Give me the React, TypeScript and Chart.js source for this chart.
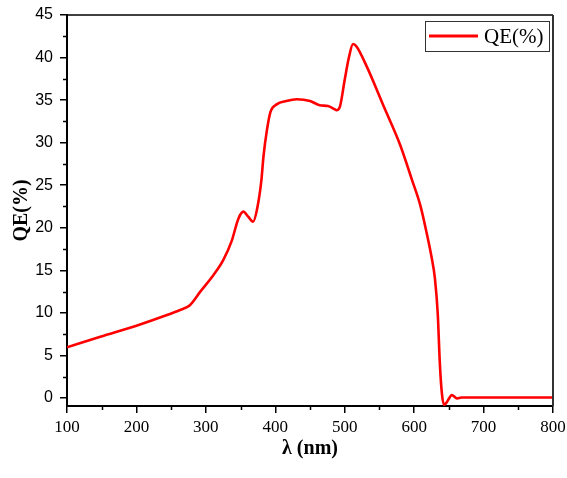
import React, { useEffect, useRef } from "react";
import { Chart, registerables } from "chart.js";

Chart.register(...registerables);

const wavelengths = [100, 148, 200, 244, 263, 268, 277, 292, 311, 325, 337, 347, 354, 361, 368, 374, 380, 383, 388, 393, 402, 416, 431, 450, 464, 476, 486, 488, 493, 500, 506, 512, 517, 532, 556, 580, 597, 609, 618, 625, 630, 634, 637, 640, 643, 646, 650, 654, 658, 662, 668, 680, 720, 760, 800];
const qeValues = [5.95, 7.2, 8.5, 9.75, 10.35, 10.5, 10.9, 12.5, 14.45, 16.2, 18.4, 21.1, 21.9, 21.3, 20.7, 22.3, 25.6, 28.4, 31.5, 33.6, 34.5, 34.9, 35.1, 34.9, 34.4, 34.3, 33.9, 33.8, 34.2, 37.4, 40.0, 41.6, 41.3, 38.9, 34.3, 29.7, 25.6, 22.6, 19.4, 16.6, 14.0, 9.9, 4.1, 0.5, -0.8, -0.6, -0.1, 0.35, 0.15, -0.05, 0.05, 0.05, 0.05, 0.05, 0.05];

const xTicks = [100, 200, 300, 400, 500, 600, 700, 800];
const yTicks = [0, 5, 10, 15, 20, 25, 30, 35, 40, 45];
const xMinorTicks = [150, 250, 350, 450, 550, 650, 750];
const yMinorTicks = [2.5, 7.5, 12.5, 17.5, 22.5, 27.5, 32.5, 37.5, 42.5];

const seriesLabel = "QE(%)";
const xTitle = "λ (nm)";
const yTitle = "QE(%)";

const SERIF = '"Liberation Serif", "Times New Roman", serif';
const SANS = '"Liberation Sans", Arial, sans-serif';

const decorPlugin = {
  id: "decor",
  afterDraw(chart: any) {
    const { ctx, chartArea: ca, scales } = chart;
    const x = scales.x;
    const y = scales.y;
    ctx.save();
    ctx.strokeStyle = "#000";
    ctx.lineWidth = 1.5;
    ctx.beginPath();
    for (const v of xMinorTicks) {
      const px = Math.round(x.getPixelForValue(v)) + 0.5;
      ctx.moveTo(px, ca.bottom);
      ctx.lineTo(px, ca.bottom + 4);
    }
    for (const v of yMinorTicks) {
      const py = Math.round(y.getPixelForValue(v)) + 0.5;
      ctx.moveTo(ca.left, py);
      ctx.lineTo(ca.left - 4, py);
    }
    ctx.stroke();

    // top frame
    ctx.lineWidth = 1.5;
    ctx.strokeStyle = "#000";
    ctx.beginPath();
    ctx.moveTo(ca.left, ca.top);
    ctx.lineTo(ca.right, ca.top);
    ctx.stroke();
    // right frame
    ctx.lineWidth = 2;
    ctx.strokeStyle = "#333";
    ctx.beginPath();
    ctx.moveTo(ca.right, ca.top);
    ctx.lineTo(ca.right, ca.bottom);
    ctx.stroke();

    // axis titles
    ctx.fillStyle = "#000";
    ctx.font = `bold 20px ${SERIF}`;
    ctx.textAlign = "center";
    ctx.textBaseline = "middle";
    ctx.fillText(xTitle, (ca.left + ca.right) / 2, 449);
    ctx.save();
    ctx.translate(22, (ca.top + ca.bottom) / 2);
    ctx.rotate(-Math.PI / 2);
    ctx.fillText(yTitle, 0, 0);
    ctx.restore();

    // legend
    ctx.lineWidth = 1;
    ctx.strokeStyle = "#333";
    ctx.strokeRect(425.5, 21.5, 124, 30);
    ctx.strokeStyle = "#ff0000";
    ctx.lineWidth = 3;
    ctx.beginPath();
    ctx.moveTo(429, 36);
    ctx.lineTo(478, 36);
    ctx.stroke();
    ctx.fillStyle = "#000";
    ctx.font = `21px ${SERIF}`;
    ctx.textAlign = "left";
    ctx.textBaseline = "middle";
    ctx.fillText(seriesLabel, 484, 37);
    ctx.restore();
  },
};

export default function App() {
  const canvasRef = useRef<HTMLCanvasElement | null>(null);

  useEffect(() => {
    const canvas = canvasRef.current;
    if (!canvas) return;
    const points = wavelengths.map((w, i) => ({ x: w, y: qeValues[i] }));
    const chart = new Chart(canvas, {
      type: "line",
      data: {
        datasets: [
          {
            label: seriesLabel,
            data: points,
            borderColor: "#ff0000",
            backgroundColor: "#ff0000",
            borderWidth: 2.6,
            pointRadius: 0,
            cubicInterpolationMode: "monotone",
            fill: false,
          },
        ],
      },
      options: {
        animation: false,
        responsive: false,
        events: [],
        layout: { padding: { top: 15, right: 14, left: 0, bottom: 0 } },
        plugins: {
          legend: { display: false },
          tooltip: { enabled: false },
        },
        scales: {
          x: {
            type: "linear",
            min: 100,
            max: 800,
            afterBuildTicks: (s: any) => {
              s.ticks = xTicks.map((v) => ({ value: v }));
            },
            afterFit: (s: any) => {
              s.height = 72;
              s.paddingLeft = 0;
              s.paddingRight = 0;
            },
            grid: {
              display: true,
              drawOnChartArea: false,
              drawTicks: true,
              tickLength: 7,
              color: "#000",
              lineWidth: 1.5,
            },
            border: { display: true, color: "#000", width: 2 },
            ticks: {
              color: "#000",
              font: { family: SERIF, size: 17 },
              padding: 4,
              maxRotation: 0,
              autoSkip: false,
            },
          },
          y: {
            type: "linear",
            min: -0.94,
            max: 45,
            afterBuildTicks: (s: any) => {
              s.ticks = yTicks.map((v) => ({ value: v }));
            },
            afterFit: (s: any) => {
              s.width = 67;
              s.paddingTop = 0;
              s.paddingBottom = 0;
            },
            grid: {
              display: true,
              drawOnChartArea: false,
              drawTicks: true,
              tickLength: 7,
              color: "#000",
              lineWidth: 1.5,
            },
            border: { display: true, color: "#000", width: 2 },
            ticks: {
              color: "#000",
              font: { family: SANS, size: 16 },
              padding: 7,
              autoSkip: false,
            },
          },
        },
      },
      plugins: [decorPlugin],
    } as any);
    return () => chart.destroy();
  }, []);

  return (
    <div style={{ position: "absolute", left: 0, top: 0, width: 567, height: 478, background: "#fff" }}>
      <canvas ref={canvasRef} width={567} height={478} style={{ display: "block" }} />
    </div>
  );
}
